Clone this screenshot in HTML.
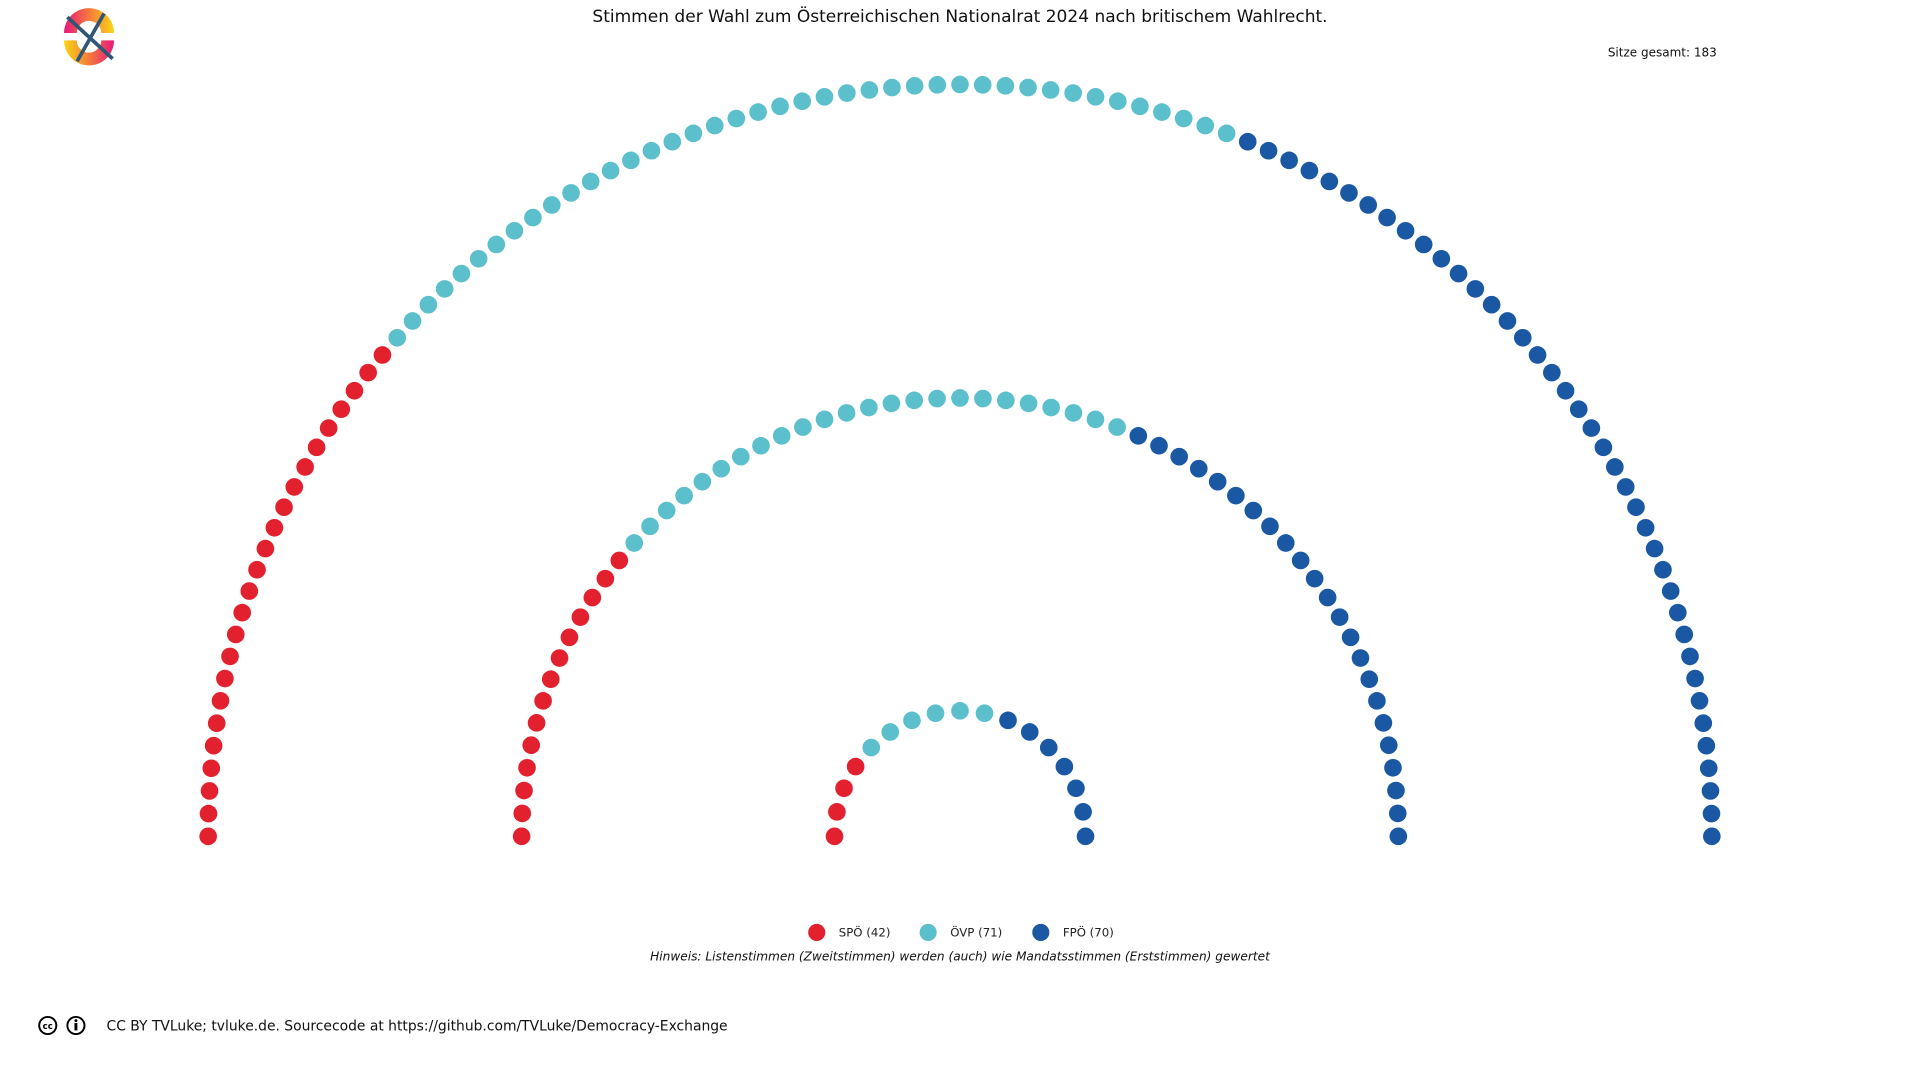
<!DOCTYPE html>
<html><head><meta charset="utf-8"><style>
html,body{margin:0;padding:0;background:#fff;}
svg{display:block;font-family:"DejaVu Sans","Liberation Sans",sans-serif;}
</style></head><body>
<svg id="chart" width="1920" height="1080" viewBox="0 0 1568 882" xmlns="http://www.w3.org/2000/svg">
<defs>
<linearGradient id="lg1" x1="0" y1="0" x2="1" y2="0"><stop offset="0" stop-color="#e8177a"/><stop offset="0.5" stop-color="#f47a3c"/><stop offset="1" stop-color="#f9d616"/></linearGradient>
<linearGradient id="lg2" x1="0" y1="0" x2="1" y2="0"><stop offset="0" stop-color="#f9d616"/><stop offset="0.5" stop-color="#f47a3c"/><stop offset="1" stop-color="#e8177a"/></linearGradient>
</defs>
<g>
<path d="M52.3,27 A20.4,20.4 0 0 1 93.1,27 L82.7,27 A10,10 0 0 0 62.7,27 Z" fill="url(#lg1)"/>
<path d="M52.3,33 A20.4,20.4 0 0 0 93.1,33 L82.7,33 A10,10 0 0 1 62.7,33 Z" fill="url(#lg2)"/>
<line x1="55" y1="14" x2="92" y2="48" stroke="#2f5676" stroke-width="3"/>
<line x1="85" y1="11" x2="63" y2="50" stroke="#2f5676" stroke-width="3"/>
</g>
<text x="784" y="18" text-anchor="middle" font-size="13.9" fill="#111">Stimmen der Wahl zum Österreichischen Nationalrat 2024 nach britischem Wahlrecht.</text>
<text x="1402" y="46" text-anchor="end" font-size="9.8" fill="#111">Sitze gesamt: 183</text>
<g id="seats"></g>
<g>
<circle cx="667" cy="761.5" r="7" fill="#e3202e"/><text x="685" y="765" font-size="9.6" fill="#222">SPÖ (42)</text>
<circle cx="758" cy="761.5" r="7" fill="#5bbfcc"/><text x="776" y="765" font-size="9.6" fill="#222">ÖVP (71)</text>
<circle cx="850" cy="761.5" r="7" fill="#1a58a4"/><text x="868" y="765" font-size="9.6" fill="#222">FPÖ (70)</text>
</g>
<text x="784" y="784.5" text-anchor="middle" font-size="9.93" font-style="italic" fill="#111">Hinweis: Listenstimmen (Zweitstimmen) werden (auch) wie Mandatsstimmen (Erststimmen) gewertet</text>
<g>
<circle cx="39" cy="837.5" r="7" fill="#fff" stroke="#000" stroke-width="1.6"/><text x="39" y="840.5" text-anchor="middle" font-size="7" font-weight="bold">cc</text>
<circle cx="62" cy="837.5" r="7" fill="#fff" stroke="#000" stroke-width="1.6"/><circle cx="62" cy="833.5" r="1.2"/><rect x="60.8" y="835.5" width="2.4" height="6"/>
</g>
<text x="87" y="841.5" font-size="11.35" fill="#111">CC BY TVLuke; tvluke.de. Sourcecode at https://github.com/TVLuke/Democracy-Exchange</text>
</svg>
<script>
const parties = ["SPÖ", "ÖVP", "FPÖ"];
const seats = [42, 71, 70];
const colors = ["#e3202e", "#5bbfcc", "#1a58a4"];
const rowCounts = [17, 61, 105];
const rowRadii = [102.5, 358, 614];
const cx = 784, cy = 683, dotR = 7.2;
const g = document.getElementById('seats');
let all = [];
rowCounts.forEach((n, ri) => {
  for (let i = 0; i < n; i++) {
    const a = Math.PI - Math.PI * i / (n - 1);
    all.push({a: a, r: rowRadii[ri]});
  }
});
all.sort((p, q) => q.a - p.a || p.r - q.r);
let pi = 0, used = 0;
all.forEach(s => {
  while (pi < seats.length - 1 && used >= seats[pi]) { pi++; used = 0; }
  used++;
  const c = document.createElementNS('http://www.w3.org/2000/svg', 'circle');
  c.setAttribute('cx', (cx + s.r * Math.cos(s.a)).toFixed(2));
  c.setAttribute('cy', (cy - s.r * Math.sin(s.a)).toFixed(2));
  c.setAttribute('r', dotR);
  c.setAttribute('fill', colors[pi]);
  
  
  g.appendChild(c);
});
</script>
</body></html>
